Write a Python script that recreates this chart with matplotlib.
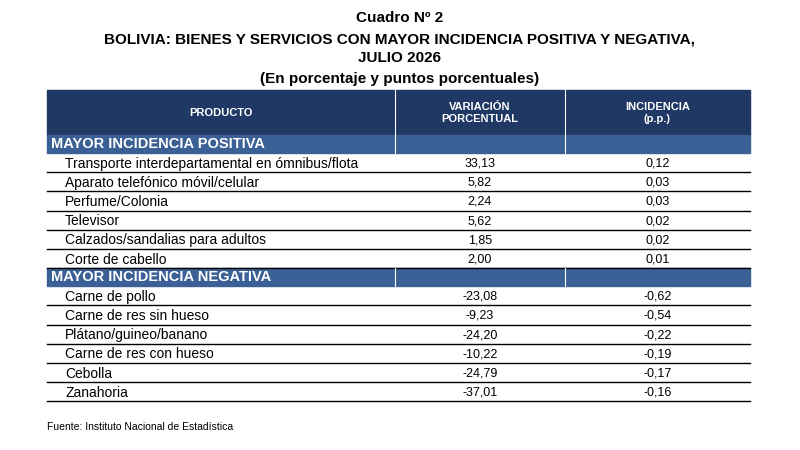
import matplotlib
matplotlib.use("Agg")
import matplotlib.pyplot as plt
from matplotlib.patches import Rectangle

plt.rcParams['font.family'] = ['Liberation Sans', 'DejaVu Sans']

positivos = ["Transporte interdepartamental en ómnibus/flota", "Aparato telefónico móvil/celular",
             "Perfume/Colonia", "Televisor", "Calzados/sandalias para adultos", "Corte de cabello"]
var_pos = ["33,13", "5,82", "2,24", "5,62", "1,85", "2,00"]
inc_pos = ["0,12", "0,03", "0,03", "0,02", "0,02", "0,01"]
negativos = ["Carne de pollo", "Carne de res sin hueso", "Plátano/guineo/banano",
             "Carne de res con hueso", "Cebolla", "Zanahoria"]
var_neg = ["-23,08", "-9,23", "-24,20", "-10,22", "-24,79", "-37,01"]
inc_neg = ["-0,62", "-0,54", "-0,22", "-0,19", "-0,17", "-0,16"]

W, H = 800, 450
fig = plt.figure(figsize=(8, 4.5), dpi=100)
ax = fig.add_axes([0, 0, 1, 1])
ax.set_xlim(0, W)
ax.set_ylim(H, 0)
ax.axis('off')

navy = '#1F3864'
sect = '#3B6096'
x0, x1, x2, x3 = 47, 395, 565, 750

ax.text(400, 18, "Cuadro Nº 2", ha='center', va='center', fontsize=11, fontweight='bold')
ax.text(400, 40, "BOLIVIA: BIENES Y SERVICIOS CON MAYOR INCIDENCIA POSITIVA Y NEGATIVA,",
        ha='center', va='center', fontsize=11, fontweight='bold')
ax.text(400, 58, "JULIO 2026", ha='center', va='center', fontsize=11, fontweight='bold')
ax.text(400, 79, "(En porcentaje y puntos porcentuales)", ha='center', va='center', fontsize=11, fontweight='bold')

ax.add_patch(Rectangle((x0, 90), x3 - x0, 45, color=navy))
for xv in (x1, x2):
    ax.plot([xv, xv], [90, 135], color='white', lw=0.8)
ax.text((x0 + x1) / 2, 113, "PRODUCTO", color='white', ha='center', va='center', fontsize=8, fontweight='bold')
ax.text((x1 + x2) / 2, 113, "VARIACIÓN\nPORCENTUAL", color='white', ha='center', va='center', fontsize=8,
        fontweight='bold', linespacing=1.2)
ax.text((x2 + x3) / 2, 113, "INCIDENCIA\n(p.p.)", color='white', ha='center', va='center', fontsize=8,
        fontweight='bold', linespacing=1.2)

rh = 19.2
y = 135
def section(title, y):
    ax.add_patch(Rectangle((x0, y), x3 - x0, 18, color=sect))
    for xv in (x1, x2):
        ax.plot([xv, xv], [y, y + 18], color='white', lw=0.8)
    ax.text(x0 + 4, y + 9, title, color='white', ha='left', va='center', fontsize=10.5, fontweight='bold')
    return y + 18

def rows(names, v, inc, y):
    for n, a, b in zip(names, v, inc):
        ax.text(x0 + 18, y + rh / 2 + 1, n, ha='left', va='center', fontsize=10)
        ax.text((x1 + x2) / 2, y + rh / 2 + 1, a, ha='center', va='center', fontsize=9)
        ax.text((x2 + x3) / 2, y + rh / 2 + 1, b, ha='center', va='center', fontsize=9)
        y += rh
        ax.plot([x0, x3], [y, y], color='black', lw=1.0)
    return y

y = section("MAYOR INCIDENCIA POSITIVA", y)
y = rows(positivos, var_pos, inc_pos, y)
y = section("MAYOR INCIDENCIA NEGATIVA", y)
y = rows(negativos, var_neg, inc_neg, y)

ax.text(x0, 427, "Fuente: Instituto Nacional de Estadística", ha='left', va='center', fontsize=7.5)

fig.savefig("out.png", dpi=100, facecolor='white')
